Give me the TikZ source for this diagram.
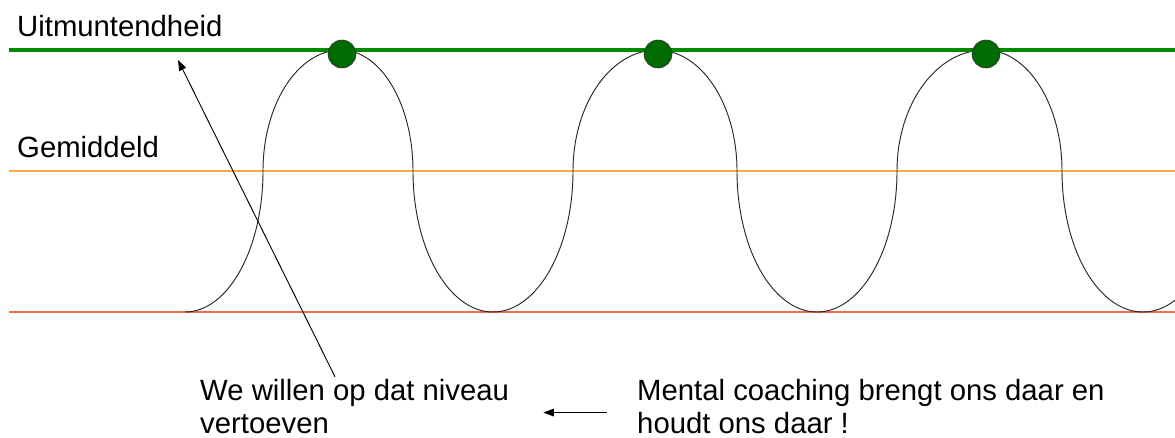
\documentclass[tikz,border=0pt]{standalone}
\usepackage{fontspec}
\setmainfont{Liberation Sans}
\usepackage{tikz}
\usetikzlibrary{arrows.meta, positioning, calc}
\definecolor{lvlgreen}{HTML}{008A00}
\definecolor{dotgreen}{HTML}{006B00}
\definecolor{lvlorange}{HTML}{FBAA45}
\definecolor{lvlred}{HTML}{F26A52}

\begin{document}
\begin{tikzpicture}[x=0.03cm, y=0.03cm,
    level/.style={draw=#1, line width=1.4pt},
    lbl/.style={font=\fontsize{25}{28}\selectfont, inner sep=0pt, anchor=base west, align=left},
    wave/.style={draw=black!85, line width=0.8pt},
    peak/.style={circle, draw=black!80, fill=dotgreen, line width=0.6pt, minimum size=23.8pt, inner sep=0pt},
    pointer/.style={draw=black, line width=0.8pt, -{Triangle[length=9pt, width=6.5pt]}}
]
\useasboundingbox (0,0) rectangle (1175,-437);
\clip (0,0) rectangle (1175,-437);

% levels
\draw[level=lvlorange] (9,-171) -- (1175,-171);
\draw[level=lvlred]    (9,-312) -- (1175,-312);

% performance curve
\draw[wave] (185,-312)
    arc[start angle=270, end angle=360, x radius=78, y radius=141]
    arc[start angle=180, end angle=90,  x radius=78, y radius=121]
    arc[start angle=90,  end angle=0,   x radius=72, y radius=121]
    arc[start angle=180, end angle=270, x radius=80, y radius=141]
    arc[start angle=270, end angle=360, x radius=80, y radius=141]
    arc[start angle=180, end angle=90,  x radius=84, y radius=121]
    arc[start angle=90,  end angle=0,   x radius=80, y radius=121]
    arc[start angle=180, end angle=270, x radius=80, y radius=141]
    arc[start angle=270, end angle=360, x radius=80, y radius=141]
    arc[start angle=180, end angle=90,  x radius=88, y radius=121]
    arc[start angle=90,  end angle=0,   x radius=77, y radius=121]
    arc[start angle=180, end angle=270, x radius=81, y radius=141]
    arc[start angle=270, end angle=360, x radius=80, y radius=141];

\draw[level=lvlgreen, line width=3.4pt] (9,-50) -- (1175,-50);

\node[peak] (top1) at (342,-54) {};
\node[peak] (top2) at (658,-54) {};
\node[peak] (top3) at (986,-54) {};

\node[lbl] (best)  at (17,-36)  {Uitmuntendheid};
\node[lbl] (avg)   at (17,-157) {Gemiddeld};
\node[lbl] (want)  at (200,-433) {We willen op dat niveau\\vertoeven};
\node[lbl] (coach) at (637,-433) {Mental coaching brengt ons daar en\\houdt ons daar !};

\coordinate (aim) at (178,-60);
\draw[pointer] ($(want.north west)+(135,2)$) -- (aim);
\draw[pointer] ([xshift=-25.5pt, yshift=-5.5pt]coach.west) -- ([xshift=-80pt, yshift=-5.5pt]coach.west);
\end{tikzpicture}
\end{document}
